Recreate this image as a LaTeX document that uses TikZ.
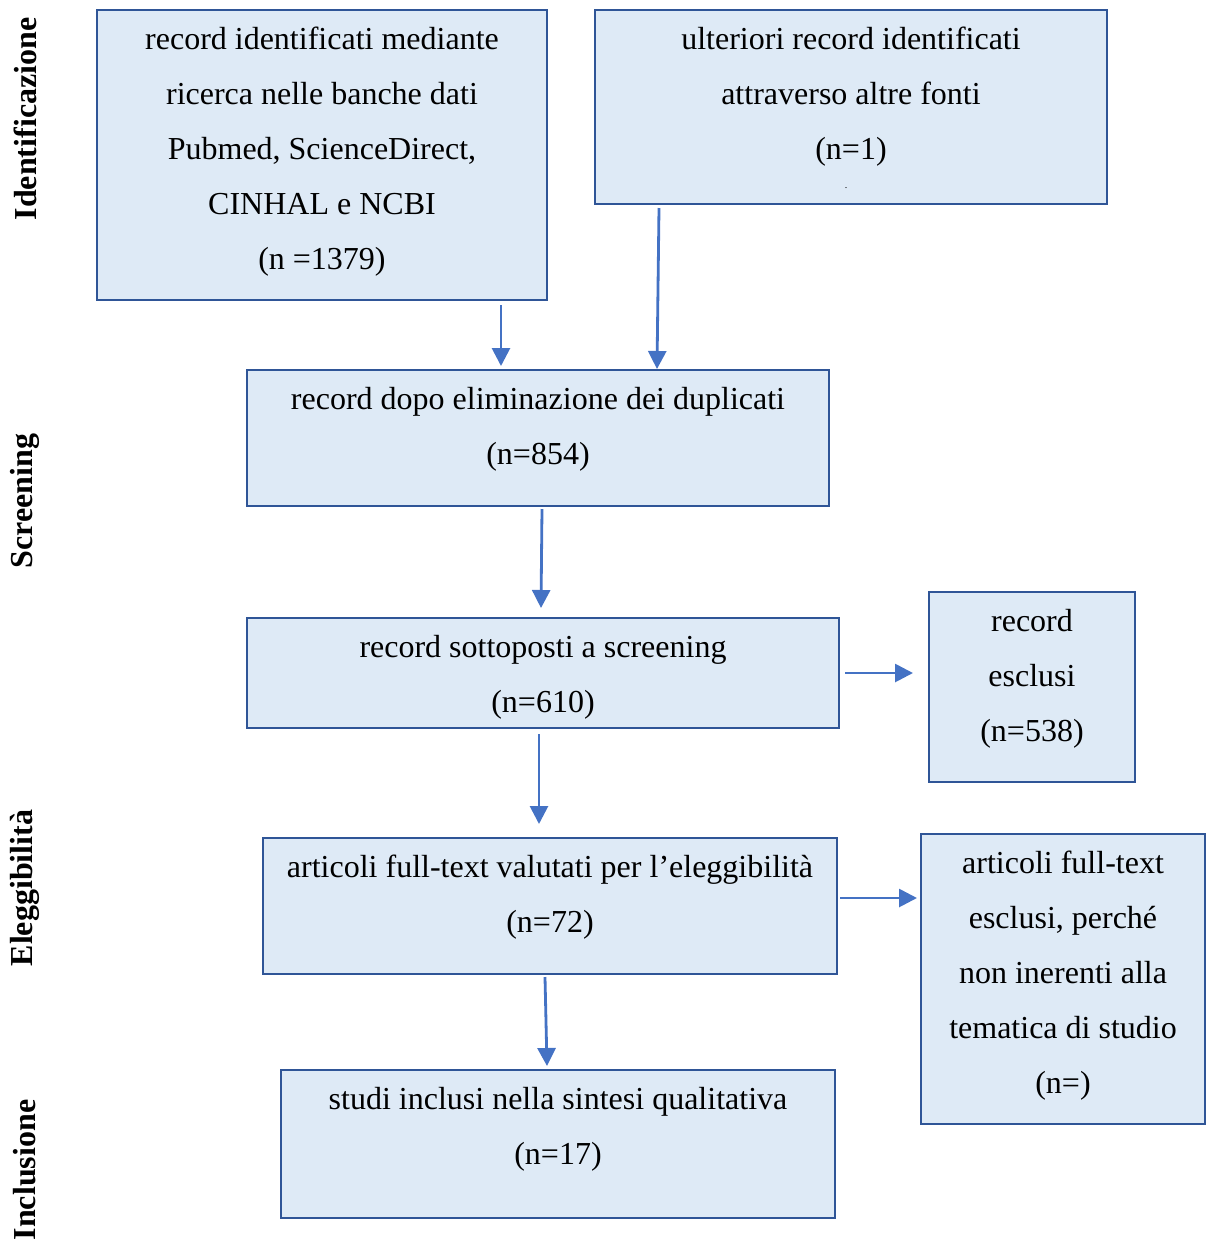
\documentclass[tikz,border=0pt]{standalone}
\usepackage{fontspec}
\setmainfont{Liberation Serif}
\usetikzlibrary{arrows.meta}

\definecolor{bordoblu}{RGB}{47,85,151}
\definecolor{riempblu}{RGB}{222,234,246}
\definecolor{frecciablu}{RGB}{68,114,196}

\newcommand{\cella}[3]{\parbox[c][#2][t]{#1}{\vspace*{0.6pt}\centering\strut #3}}

\tikzset{tappa/.style = {draw=bordoblu, fill=riempblu, line width=1pt,
                         inner sep=0pt, anchor=north west},
         freccia/.style = {draw=frecciablu, line width=1.4pt,
                           -{Triangle[length=9pt, width=9pt]}},
         fase/.style = {rotate=90, font=\fontsize{16}{16}\selectfont\bfseries}
        }

\begin{document}
\begin{tikzpicture}[x=0.5pt, y=-0.5pt, font=\fontsize{16}{27.5}\selectfont]
  \useasboundingbox (0,0) rectangle (1211,1239);

  % fasi
  \node[fase] (fIdent) at (25,119) {Identificazione};
  \node[fase] (fScreen) at (25,501) {Screening};
  \node[fase] (fElegg) at (25,888) {Eleggibilità};
  \node[fase] (fIncl) at (25,1170) {Inclusione};

  % riquadri
  \node[tappa] (ident) at (96,9)
    {\cella{225pt}{145pt}{record identificati mediante\\ricerca nelle banche dati\\Pubmed, ScienceDirect,\\CINHAL e NCBI\\(n =1379)}};
  \node[tappa] (altre) at (594,9)
    {\cella{256pt}{97pt}{ulteriori record identificati\\attraverso altre fonti\\(n=1)}};
  \node (punto) at (846,188) {\fontsize{5}{5}\selectfont .};
  \node[tappa] (dupl) at (246,369)
    {\cella{291pt}{68pt}{record dopo eliminazione dei duplicati\\(n=854)}};
  \node[tappa] (screen) at (246,617)
    {\cella{296pt}{55pt}{record sottoposti a screening\\(n=610)}};
  \node[tappa] (escl) at (928,591)
    {\cella{103pt}{95pt}{record\\esclusi\\(n=538)}};
  \node[tappa] (full) at (262,837)
    {\cella{287pt}{68pt}{articoli full-text valutati per l’eleggibilità\\(n=72)}};
  \node[tappa] (fullescl) at (920,833)
    {\cella{142pt}{145pt}{articoli full-text\\esclusi, perché\\non inerenti alla\\tematica di studio\\(n=)}};
  \node[tappa] (incl) at (280,1069)
    {\cella{277pt}{74pt}{studi inclusi nella sintesi qualitativa\\(n=17)}};

  % frecce
  \draw[freccia] ([xshift=89.5pt, yshift=-2pt]ident.south) -- ([xshift=-18.5pt, yshift=1.5pt]dupl.north);
  \draw[freccia] ([xshift=-96pt, yshift=-1.5pt]altre.south) -- ([xshift=59.5pt]dupl.north);
  \draw[freccia] ([xshift=2pt, yshift=-1pt]dupl.south) -- ([xshift=-1pt, yshift=4.5pt]screen.north);
  \draw[freccia] ([xshift=2.5pt]screen.east) -- ([xshift=-7.5pt]screen.east -| escl.west);
  \draw[freccia] ([xshift=-2pt, yshift=-2.5pt]screen.south) -- ([xshift=-5.5pt, yshift=6.5pt]full.north);
  \draw[freccia] ([xshift=1pt, yshift=4pt]full.east) -- ([xshift=-1.5pt, yshift=4pt]full.east -| fullescl.west);
  \draw[freccia] ([xshift=-2.5pt, yshift=-1pt]full.south) -- ([xshift=-5.5pt, yshift=1.5pt]incl.north);
\end{tikzpicture}
\end{document}
